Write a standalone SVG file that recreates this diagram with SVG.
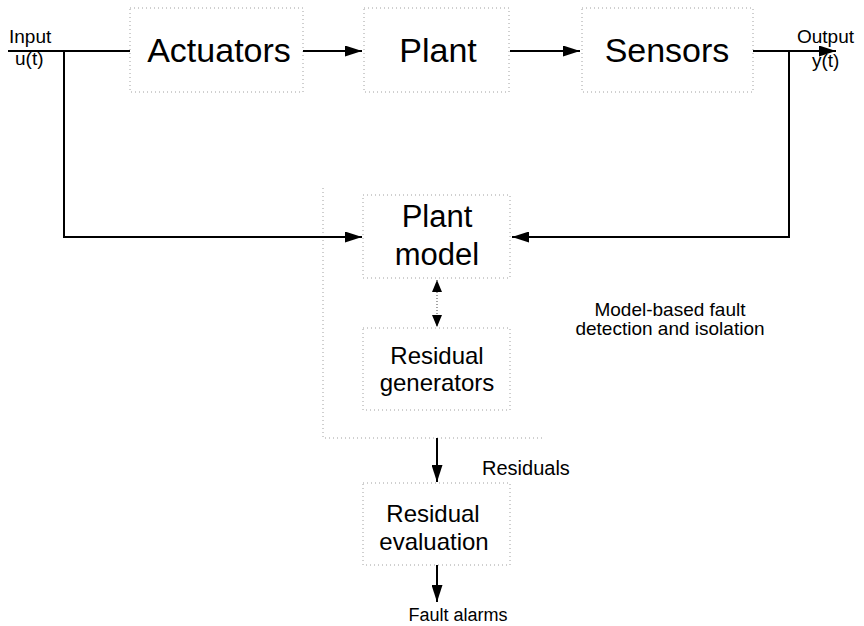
<svg xmlns="http://www.w3.org/2000/svg" width="864" height="626" viewBox="0 0 864 626">
<defs>
<style>
.box{fill:none;stroke:#a0a0a0;stroke-width:1;stroke-dasharray:1 3}
.ln{fill:none;stroke:#000;stroke-width:2}
.big{font-family:"Liberation Sans",Arial,sans-serif;font-size:34px;fill:#000;text-anchor:middle}
.mid{font-family:"Liberation Sans",Arial,sans-serif;font-size:25px;fill:#000;text-anchor:middle}
.sm{font-family:"Liberation Sans",Arial,sans-serif;font-size:19px;fill:#000}
</style>
<marker id="ah" markerUnits="userSpaceOnUse" markerWidth="17" markerHeight="11" refX="17" refY="5.5" orient="auto-start-reverse">
<path d="M0,0 L17,5.5 L0,11 z" fill="#000"/>
</marker>
<marker id="ahs" markerUnits="userSpaceOnUse" markerWidth="12" markerHeight="10" refX="12" refY="5" orient="auto-start-reverse">
<path d="M0,0 L12,5 L0,10 z" fill="#000"/>
</marker>
</defs>
<rect width="864" height="626" fill="#fff"/>

<g id="outer-fdi">
<path class="box" d="M323,188 L323,438 L545,438"/>
<text class="sm" x="670" y="316" text-anchor="middle">Model-based fault</text>
<text class="sm" x="670" y="335" text-anchor="middle">detection and isolation</text>
</g>

<g id="input">
<text class="sm" x="9" y="43">Input</text>
<text class="sm" x="15" y="65">u(t)</text>
</g>

<g id="output">
<text class="sm" x="797" y="43">Output</text>
<text class="sm" x="812" y="67">y(t)</text>
</g>

<g id="actuators">
<rect class="box" x="130" y="8" width="173" height="84"/>
<text class="big" x="219" y="62">Actuators</text>
</g>

<g id="plant">
<rect class="box" x="364" y="8" width="145" height="84"/>
<text class="big" x="438" y="62">Plant</text>
</g>

<g id="sensors">
<rect class="box" x="582" y="8" width="171" height="84"/>
<text class="big" x="667" y="62">Sensors</text>
</g>

<g id="plant-model">
<rect class="box" x="363" y="195" width="147" height="83"/>
<text class="big" x="437" y="227" style="font-size:31px">Plant</text>
<text class="big" x="437" y="265" style="font-size:31px">model</text>
</g>

<g id="residual-generators">
<rect class="box" x="363" y="328" width="147" height="82"/>
<text class="mid" x="437" y="364" style="font-size:24px">Residual</text>
<text class="mid" x="437" y="391" style="font-size:24px">generators</text>
</g>

<g id="residual-evaluation">
<rect class="box" x="363" y="483" width="147" height="82"/>
<text class="mid" x="433" y="522" style="font-size:24px">Residual</text>
<text class="mid" x="434" y="550" style="font-size:24px">evaluation</text>
</g>

<g id="labels">
<text class="sm" x="482" y="475" style="font-size:20px">Residuals</text>
<text class="sm" x="458" y="621" text-anchor="middle" style="font-size:18px">Fault alarms</text>
</g>

<g id="connectors">
<path class="ln" d="M8,51 L130,51"/>
<path class="ln" d="M64,51 L64,237 L362,237" marker-end="url(#ah)"/>
<path class="ln" d="M303,51 L362,51" marker-end="url(#ah)"/>
<path class="ln" d="M510,51 L580,51" marker-end="url(#ah)"/>
<path class="ln" d="M753,51 L836,51" marker-end="url(#ah)"/>
<path class="ln" d="M789,51 L789,237 L512,237" marker-end="url(#ah)"/>
<path d="M437,280 L437,327" fill="none" stroke="#666" stroke-width="1.2" stroke-dasharray="1 2" marker-start="url(#ahs)" marker-end="url(#ahs)"/>
<path class="ln" d="M437,438 L437,482" marker-end="url(#ah)"/>
<path class="ln" d="M437,565 L437,602" marker-end="url(#ah)"/>
</g>
</svg>
